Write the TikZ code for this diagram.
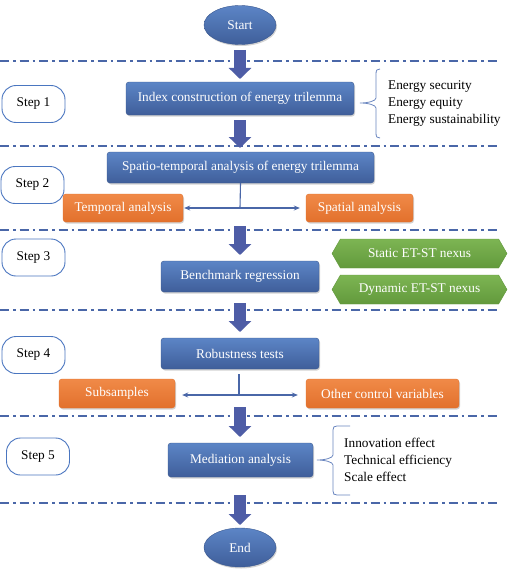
\documentclass[tikz,border=0pt]{standalone}
\usepackage{fontspec}
\setmainfont{Liberation Serif}
\usetikzlibrary{shapes.geometric,shapes.symbols,arrows.meta,shadows,calc}
\definecolor{bluetop}{HTML}{5C85C6}
\definecolor{bluebot}{HTML}{3F5E9A}
\definecolor{blueedge}{HTML}{3A5890}
\definecolor{orangetop}{HTML}{F08A48}
\definecolor{orangebot}{HTML}{E2702C}
\definecolor{greentop}{HTML}{7DB553}
\definecolor{greenbot}{HTML}{62993C}
\definecolor{arrowblue}{HTML}{4E5DA6}
\definecolor{lineblue}{HTML}{4A67A8}
\definecolor{stepblue}{HTML}{4A76C0}
\definecolor{braceblue}{HTML}{6A86C0}
\begin{document}
\begin{tikzpicture}[x=1pt,y=-1pt,
  every node/.style={font=\fontsize{13.3}{17}\selectfont, inner sep=0pt},
  shadowed/.style={drop shadow={opacity=0.35,shadow xshift=1pt,shadow yshift=-1.5pt}},
  bluebox/.style={rectangle, rounded corners=3pt, top color=bluetop, bottom color=bluebot,
    draw=blueedge, line width=0.4pt, text=white, shadowed},
  orangebox/.style={rectangle, rounded corners=3pt, top color=orangetop, bottom color=orangebot,
    draw=orangebot, line width=0.4pt, text=white, minimum height=28pt, shadowed},
  greenbox/.style={signal, signal to=west and east, signal pointer angle=120,
    top color=greentop, bottom color=greenbot, draw=greenbot, line width=0.4pt,
    text=white, minimum width=175pt, minimum height=29pt},
  ovalbox/.style={ellipse, top color=bluetop, bottom color=bluebot, draw=blueedge,
    line width=0.4pt, text=white, minimum width=72pt, minimum height=39pt, shadowed},
  stepbox/.style={rectangle, rounded corners=14pt, draw=stepblue, line width=0.9pt,
    fill=white, minimum width=63pt, minimum height=37pt},
  sepline/.style={draw=lineblue, line width=2pt, dash pattern=on 9pt off 4pt on 2.5pt off 4pt},
  blockarr/.style={draw=arrowblue, line width=12pt, -{Triangle[width=22pt,length=11pt]}},
  conn/.style={draw=lineblue, line width=1.1pt},
  connarr/.style={conn, -{Stealth[length=6pt,width=5pt]}},
  bracestyle/.style={draw=braceblue, line width=0.8pt},
  listtext/.style={align=left, anchor=west}
]
\useasboundingbox (0,0) rectangle (520,578);
\fill[white] (0,0) rectangle (520,578);

% separator lines
\foreach \yy in {61,146,230,310,416,503}{
  \draw[sepline] (0,\yy) -- (497,\yy);
}

% nodes
\node[ovalbox] (start) at (240,25) {Start};
\node[bluebox, minimum width=228pt, minimum height=33pt] (index) at (240,98.5) {Index construction of energy trilemma};
\node[stepbox] (step1) at (33.5,104) {Step 1};
\node[listtext] (etlist) at (388,104) {Energy security\\Energy equity\\Energy sustainability};

\node[bluebox, minimum width=267pt, minimum height=31pt] (spatio) at (240.5,167.5) {Spatio-temporal analysis of energy trilemma};
\node[stepbox] (step2) at (32.5,185) {Step 2};
\node[orangebox, minimum width=120pt] (temporal) at (123,208) {Temporal analysis};
\node[orangebox, minimum width=107pt] (spatial) at (359.5,208) {Spatial analysis};

\node[stepbox] (step3) at (33.5,257.5) {Step 3};
\node[bluebox, minimum width=158pt, minimum height=31pt] (bench) at (240,276.5) {Benchmark regression};
\node[greenbox] (static) at (419.5,253.5) {Static ET-ST nexus};
\node[greenbox] (dynamic) at (419.5,289.5) {Dynamic ET-ST nexus};

\node[stepbox] (step4) at (33.5,355) {Step 4};
\node[bluebox, minimum width=158pt, minimum height=31pt] (robust) at (240,353.5) {Robustness tests};
\node[orangebox, minimum width=116pt, minimum height=29pt] (subs) at (117,393.5) {Subsamples};
\node[orangebox, minimum width=153pt, minimum height=29pt] (other) at (382.5,393.5) {Other control variables};

\node[stepbox] (step5) at (38,456.5) {Step 5};
\node[bluebox, minimum width=145pt, minimum height=34pt] (med) at (240.5,460) {Mediation analysis};
\node[listtext] (medlist) at (344,460) {Innovation effect\\Technical efficiency\\Scale effect};

\node[ovalbox] (end) at (240,547.5) {End};

% block arrows
\coordinate (a1s) at (240,50);  \coordinate (a1e) at (240,79);
\coordinate (a2s) at (240,120); \coordinate (a2e) at (240,148);
\coordinate (a3s) at (240,226); \coordinate (a3e) at (240,255);
\coordinate (a4s) at (240,303); \coordinate (a4e) at (240,332);
\coordinate (a5s) at (240,407); \coordinate (a5e) at (240,437);
\coordinate (a6s) at (240,495); \coordinate (a6e) at (240,525);
\foreach \i in {1,...,6}{
  \draw[blockarr] (a\i s) -- (a\i e);
}

% branch connectors
\coordinate (br1) at (240,208);
\draw[conn] (spatio.south) -- (br1);
\draw[connarr] (br1) -- ($(temporal.east)+(1,0)$);
\draw[connarr] (br1) -- ($(spatial.west)+(-6,0)$);

\coordinate (br2) at (239,395);
\draw[conn] ($(robust.south)+(-1,5)$) -- (br2);
\draw[connarr] (br2) -- ($(subs.east)+(7,1.5)$);
\draw[connarr] (br2) -- ($(other.west)+(-8,1.5)$);

% braces
\draw[bracestyle] (380,69) .. controls (377,69) and (376,70) .. (376,74) -- (376,98)
  .. controls (376,101) and (368,103) .. (360,103)
  .. controls (368,103) and (376,105) .. (376,108) -- (376,133)
  .. controls (376,137) and (377,138) .. (380,138);
\draw[bracestyle] (350,426) -- (337,426) .. controls (334,426) and (333,427) .. (333,430) -- (333,455)
  .. controls (333,458) and (325,460) .. (317,460)
  .. controls (325,460) and (333,462) .. (333,465) -- (333,491)
  .. controls (333,494) and (334,495) .. (337,495) -- (350,495);
\end{tikzpicture}
\end{document}
